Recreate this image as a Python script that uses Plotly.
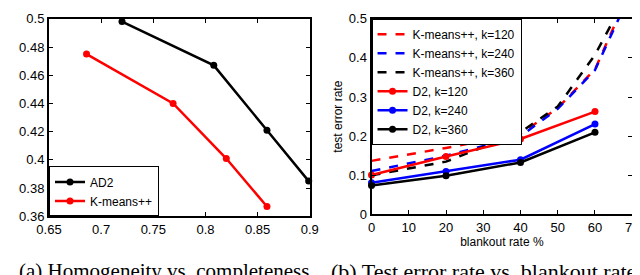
import plotly.graph_objects as go

# ---- Panel (a): homogeneity vs completeness ----
ad2_x = [0.72, 0.808, 0.859, 0.899]
ad2_y = [0.498, 0.467, 0.421, 0.385]
km_x = [0.686, 0.769, 0.820, 0.859]
km_y = [0.475, 0.440, 0.401, 0.367]

# ---- Panel (b): test error rate vs blankout rate ----
blank_km = [0, 20, 40, 50, 60, 70]
km120 = [0.137, 0.170, 0.206, 0.272, 0.371, 0.585]
km240 = [0.111, 0.150, 0.200, 0.270, 0.369, 0.575]
km360 = [0.100, 0.135, 0.210, 0.276, 0.408, 0.585]
blank_d2 = [0, 20, 40, 60]
d2_120 = [0.101, 0.148, 0.193, 0.263]
d2_240 = [0.081, 0.110, 0.140, 0.231]
d2_360 = [0.074, 0.099, 0.133, 0.210]

FONT = "Liberation Sans, Arial, sans-serif"
SERIF = "Liberation Serif, Times New Roman, serif"

fig = go.Figure()

fig.add_trace(go.Scatter(x=ad2_x, y=ad2_y, name="AD2", mode="lines+markers",
                         line=dict(color="black", width=2.5), marker=dict(size=7, color="black"),
                         xaxis="x", yaxis="y", legend="legend", cliponaxis=False))
fig.add_trace(go.Scatter(x=km_x, y=km_y, name="K-means++", mode="lines+markers",
                         line=dict(color="red", width=2.5), marker=dict(size=7, color="red"),
                         xaxis="x", yaxis="y", legend="legend", cliponaxis=False))

for yv, col, k in [(km120, "red", 120), (km240, "blue", 240), (km360, "black", 360)]:
    fig.add_trace(go.Scatter(x=blank_km, y=yv, name=f"K-means++, k={k}", mode="lines",
                             line=dict(color=col, width=2.5, dash="dash"),
                             xaxis="x2", yaxis="y2", legend="legend2"))
for yv, col, k in [(d2_120, "red", 120), (d2_240, "blue", 240), (d2_360, "black", 360)]:
    fig.add_trace(go.Scatter(x=blank_d2, y=yv, name=f"D2, k={k}", mode="lines+markers",
                             line=dict(color=col, width=2.5), marker=dict(size=7, color=col),
                             xaxis="x2", yaxis="y2", legend="legend2", cliponaxis=False))

axis_common = dict(showline=True, linecolor="black", linewidth=2, mirror="ticks",
                   ticks="inside", ticklen=4, tickcolor="black", tickwidth=1,
                   showgrid=False, zeroline=False, ticklabeloverflow="allow",
                   tickfont=dict(family=FONT, size=13, color="black"))

fig.update_layout(
    width=640, height=275,
    margin=dict(l=0, r=0, t=0, b=0),
    paper_bgcolor="white", plot_bgcolor="white",
    showlegend=True,
    xaxis=dict(domain=[29/640, 299/640], range=[0.65, 0.9], tickvals=[0.65, 0.7, 0.75, 0.8, 0.85, 0.9],
               ticktext=["0.65", "0.7", "0.75", "0.8", "0.85", "0.9"], anchor="y", **axis_common),
    yaxis=dict(domain=[1-213/275, 1-4/275], range=[0.36, 0.5], tickvals=[0.36, 0.38, 0.4, 0.42, 0.44, 0.46, 0.48, 0.5],
               ticktext=["0.36", "0.38", "0.4", "0.42", "0.44", "0.46", "0.48", "0.5"], anchor="x", **axis_common),
    xaxis2=dict(domain=[363/640, 633/640], range=[0, 70], tickvals=[0, 10, 20, 30, 40, 50, 60, 70], anchor="y2",
                title=dict(text="blankout rate %", font=dict(family=FONT, size=12, color="black"), standoff=0),
                **axis_common),
    yaxis2=dict(domain=[1-211/275, 1-4/275], range=[0, 0.5], tickvals=[0, 0.1, 0.2, 0.3, 0.4, 0.5],
                ticktext=["0", "0.1", "0.2", "0.3", "0.4", "0.5"], anchor="x2",
                title=dict(text="test error rate", font=dict(family=FONT, size=12, color="black"), standoff=4),
                **axis_common),
    legend=dict(x=29/640, y=1-213/275, xanchor="left", yanchor="bottom",
                bgcolor="white", bordercolor="black", borderwidth=1,
                font=dict(family=FONT, size=12, color="black"), tracegroupgap=0,
                itemwidth=30),
    legend2=dict(x=363/640, y=1-4/275, xanchor="left", yanchor="top",
                 bgcolor="white", bordercolor="black", borderwidth=1,
                 font=dict(family=FONT, size=12, color="black"), tracegroupgap=0,
                 itemwidth=30),
    annotations=[
        dict(text="(a) Homogeneity vs. completeness", x=148/640, y=1-256/275, xref="paper", yref="paper",
             xanchor="center", yanchor="top", showarrow=False,
             font=dict(family=SERIF, size=21, color="black")),
        dict(text="(b) Test error rate vs. blankout rate", x=479/640, y=1-256/275, xref="paper", yref="paper",
             xanchor="center", yanchor="top", showarrow=False,
             font=dict(family=SERIF, size=22, color="black")),
    ],
)

fig.write_html("out.html")
